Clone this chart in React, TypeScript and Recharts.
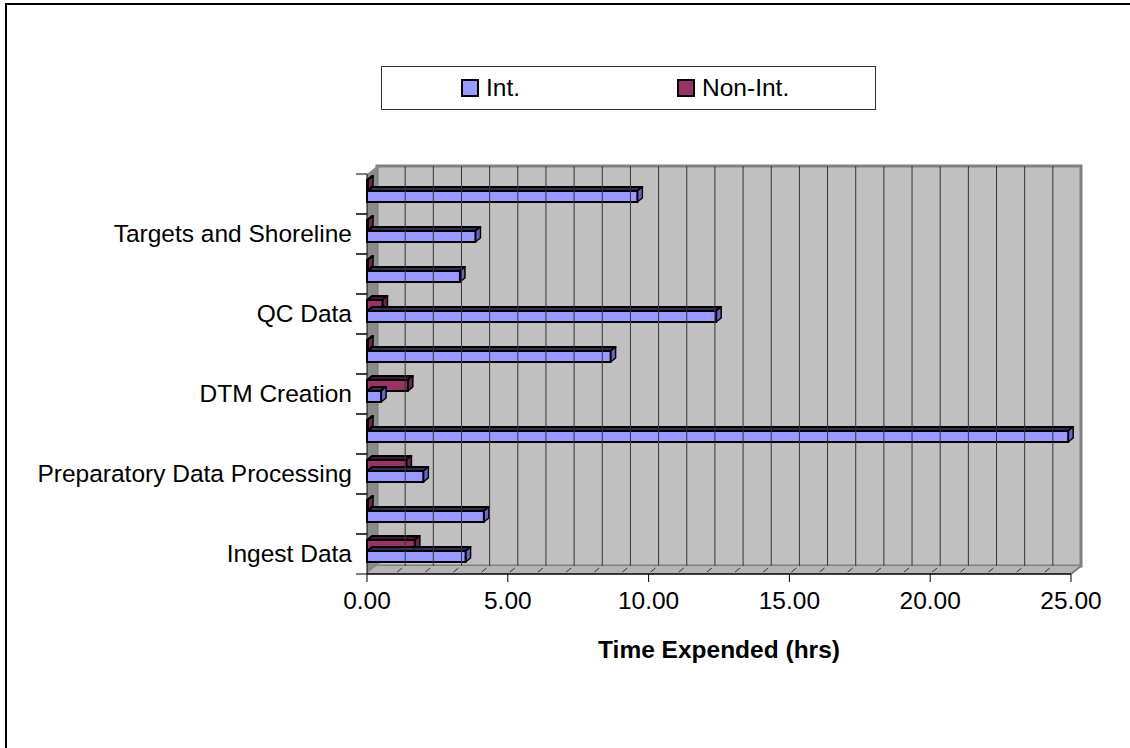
import React from "react";
import { BarChart, Bar, XAxis, YAxis, Legend, ReferenceArea, ReferenceLine } from "recharts";

// bottom -> top (YAxis is reversed so index 0 sits at the bottom)
const categories = [
    "Ingest Data",
    "",
    "Preparatory Data Processing",
    "",
    "DTM Creation",
    "",
    "QC Data",
    "",
    "Targets and Shoreline",
    "",
];
const intHours = [3.5, 4.15, 2.0, 24.9, 0.5, 8.65, 12.4, 3.3, 3.85, 9.6];
const nonIntHours = [1.7, 0, 1.4, 0, 1.45, 0, 0.55, 0, 0, 0];
const xTicks = Array.from({ length: 26 }, (_, i) => i);
const xLabelTicks = [0, 5, 10, 15, 20, 25];

const data = categories.map((name, i) => ({ name, int: intHours[i], nonInt: nonIntHours[i] }));

const FONT = "Arial, 'Liberation Sans', sans-serif";
const DX = 10; // back wall offset
const DY = 8;

const colors = {
    int: { front: "#9999FF", top: "#2e2e55", side: "#6666cc" },
    nonInt: { front: "#993366", top: "#451629", side: "#6e2449" },
};

const makeBar = (c: { front: string; top: string; side: string }) => (props: any) => {
    const { x, y, height } = props;
    const w = Math.max(props.width || 0, 1);
    const d = 5;
    const dv = 4;
    const yy = y - 3;
    return (
        <g>
            <polygon
                points={`${x},${yy} ${x + d},${yy - dv} ${x + w + d},${yy - dv} ${x + w},${yy}`}
                fill={c.top}
                stroke="#000"
                strokeWidth={2}
                strokeLinejoin="round"
            />
            <polygon
                points={`${x + w},${yy} ${x + w + d},${yy - dv} ${x + w + d},${yy + height - dv} ${x + w},${yy + height}`}
                fill={c.side}
                stroke="#000"
                strokeWidth={1.5}
                strokeLinejoin="round"
            />
            <rect x={x} y={yy} width={w} height={height} fill={c.front} stroke="#000" strokeWidth={2} />
        </g>
    );
};

const Walls = (props: any) => {
    const { x, y, width, height } = props;
    const b = y + height;
    return (
        <g>
            <rect x={x + DX} y={y - DY} width={width} height={height} fill="#c0c0c0" stroke="#808080" strokeWidth={3} />
            <polygon points={`${x},${y} ${x + DX},${y - DY} ${x + DX},${b - DY} ${x},${b}`} fill="#8a8a8a" />
            <polygon points={`${x},${b} ${x + DX},${b - DY} ${x + width + DX},${b - DY} ${x + width},${b}`} fill="#b4b4b4" />
            <line x1={x + width} y1={b} x2={x + width + DX} y2={b - DY} stroke="#808080" strokeWidth={2} />
        </g>
    );
};

const GridLine = (props: any) => {
    const { x1, y1, y2 } = props;
    if (x1 === undefined) return <g />;
    return (
        <line
            x1={x1 + DX}
            y1={Math.min(y1, y2) - DY}
            x2={x1 + DX}
            y2={Math.max(y1, y2) - DY}
            stroke="#333"
            strokeWidth={1}
        />
    );
};

const XTick = (props: any) => {
    const { x, y, payload } = props;
    const v = payload.value;
    const axisY = y - 8;
    const showLabel = xLabelTicks.includes(v);
    return (
        <g>
            {v > 0 && v < 25 && (
                <line x1={x + 2} y1={axisY - 2} x2={x + 7} y2={axisY - 6} stroke="#333" strokeWidth={1} />
            )}
            {showLabel && <line x1={x} y1={axisY} x2={x} y2={axisY + 8} stroke="#000" strokeWidth={1} />}
            {showLabel && (
                <text x={x} y={axisY + 35} textAnchor="middle" fontSize={24.5} fontFamily={FONT} fill="#000">
                    {v.toFixed(2)}
                </text>
            )}
        </g>
    );
};

const YTick = (props: any) => {
    const { x, y, payload } = props;
    const off = payload.offset || 20;
    const ax = x + 8;
    return (
        <g>
            <line x1={ax - 11} y1={y - off} x2={ax} y2={y - off} stroke="#000" strokeWidth={1} />
            <line x1={ax - 11} y1={y + off} x2={ax} y2={y + off} stroke="#000" strokeWidth={1} />
            <text x={ax - 15} y={y + 8} textAnchor="end" fontSize={24.5} fontFamily={FONT} fill="#000">
                {payload.value}
            </text>
        </g>
    );
};

const LegendBox = () => (
    <div
        style={{
            width: 414,
            height: 42,
            paddingLeft: 79,
            border: "1px solid #333",
            background: "#fff",
            display: "flex",
            alignItems: "center",
            gap: 157,
            fontFamily: FONT,
            fontSize: 24.5,
            color: "#000",
            boxSizing: "content-box",
        }}
    >
        {[
            { label: "Int.", color: colors.int.front },
            { label: "Non-Int.", color: colors.nonInt.front },
        ].map((item) => (
            <div key={item.label} style={{ display: "flex", alignItems: "center" }}>
                <span
                    style={{
                        display: "inline-block",
                        width: 14,
                        height: 14,
                        background: item.color,
                        border: "2px solid #000",
                        marginRight: 7,
                    }}
                />
                <span>{item.label}</span>
            </div>
        ))}
    </div>
);

export default function App() {
    return (
        <div style={{ position: "absolute", left: 0, top: 0, width: 1130, height: 748, overflow: "hidden", background: "#fff" }}>
            <div
                style={{
                    position: "absolute",
                    left: 5,
                    top: 3,
                    width: 1200,
                    height: 800,
                    border: "2px solid #000",
                }}
            />
            <BarChart
                width={1130}
                height={748}
                data={data}
                layout="vertical"
                margin={{ top: 174, right: 59, left: 7, bottom: 84 }}
                barGap={0}
                barSize={11}
                style={{ position: "absolute", left: 0, top: 0 }}
            >
                <ReferenceArea x1={0} x2={25} shape={<Walls />} ifOverflow="visible" />
                {xTicks
                    .filter((v) => v > 0 && v < 25)
                    .map((v) => (
                        <ReferenceLine key={v} x={v} shape={(p: any) => <GridLine {...p} />} ifOverflow="visible" />
                    ))}
                <XAxis
                    type="number"
                    domain={[0, 25]}
                    ticks={xTicks}
                    interval={0}
                    tickLine={false}
                    axisLine={{ stroke: "#000", strokeWidth: 1.5 }}
                    tick={<XTick />}
                    height={90}
                    label={{
                        value: "Time Expended (hrs)",
                        position: "insideBottom",
                        offset: 6,
                        style: { fontFamily: FONT, fontSize: 24.5, fontWeight: "bold", fill: "#000" },
                    }}
                />
                <YAxis
                    type="category"
                    dataKey="name"
                    reversed
                    width={360}
                    interval={0}
                    tickLine={false}
                    axisLine={{ stroke: "#000", strokeWidth: 1 }}
                    tick={<YTick />}
                />
                <Legend
                    layout="horizontal"
                    verticalAlign="middle"
                    align="center"
                    content={<LegendBox />}
                    wrapperStyle={{ position: "absolute", top: 66, left: 381, width: 494 }}
                />
                <Bar dataKey="nonInt" name="Non-Int." shape={makeBar(colors.nonInt)} isAnimationActive={false} />
                <Bar dataKey="int" name="Int." shape={makeBar(colors.int)} isAnimationActive={false} />
            </BarChart>
        </div>
    );
}
